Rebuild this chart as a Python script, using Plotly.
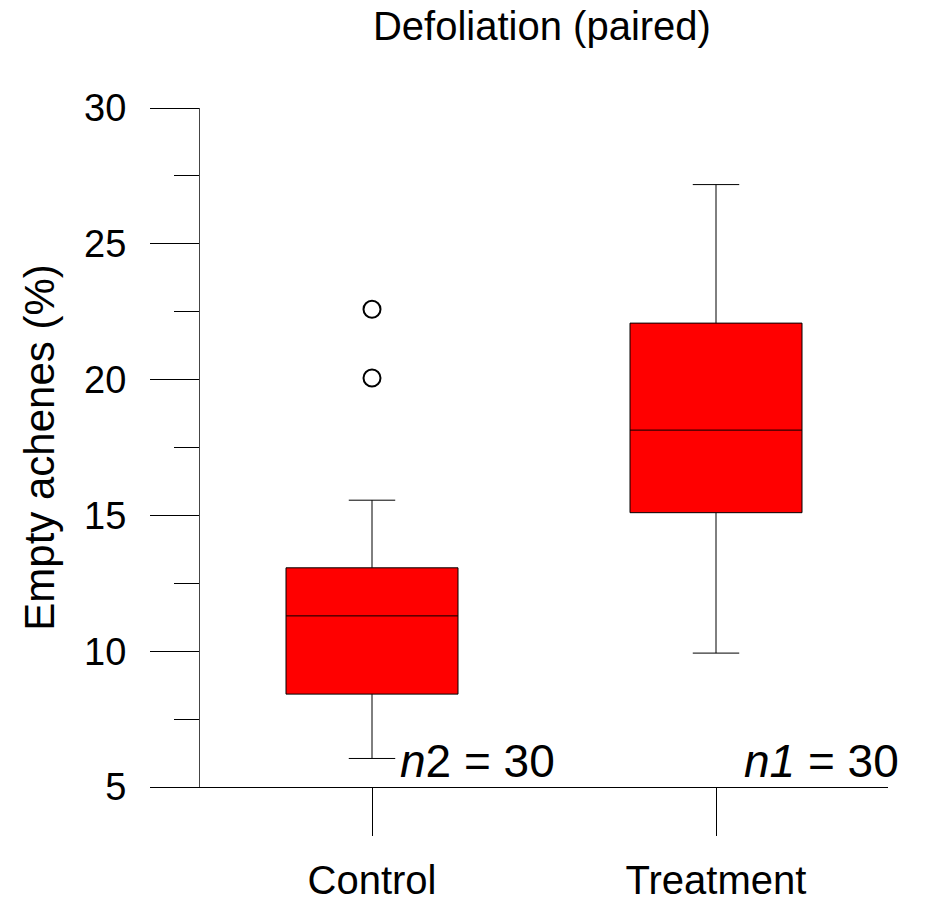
import plotly.graph_objects as go

# Summary statistics of empty achenes (%) per group
groups = ["Control", "Treatment"]
q1_vals = [8.42, 15.10]
median_vals = [11.30, 18.14]
q3_vals = [13.07, 22.08]
lower_whisker = [6.05, 9.93]
upper_whisker = [15.56, 27.18]

# Outlying observations (Control group only)
outlier_groups = ["Control", "Control"]
outlier_vals = [20.06, 22.59]

# Sample sizes printed next to each box
n_labels = ["<i>n</i>2 = 30", "<i>n1</i> = 30"]

y_major = [5, 10, 15, 20, 25, 30]
y_minor = [7.5, 12.5, 17.5, 22.5, 27.5]

FONT = "Liberation Sans, Arial, sans-serif"

fig = go.Figure()

fig.add_trace(go.Box(
    x=groups,
    q1=q1_vals,
    median=median_vals,
    q3=q3_vals,
    lowerfence=lower_whisker,
    upperfence=upper_whisker,
    boxpoints=False,
    width=0.5,
    whiskerwidth=0.27,
    fillcolor="#FF0000",
    line=dict(color="black", width=1),
    hoverinfo="skip",
))

fig.add_trace(go.Scatter(
    x=outlier_groups,
    y=outlier_vals,
    mode="markers",
    marker=dict(symbol="circle", size=17, color="white",
                line=dict(color="black", width=2)),
    hoverinfo="skip",
))

# Sample-size labels anchored just right of each box centre, near the baseline
for i, txt in enumerate(n_labels):
    fig.add_annotation(
        x=i + 0.076, y=5.95, xref="x", yref="y",
        text=txt, showarrow=False,
        xanchor="left", yanchor="middle",
        font=dict(family=FONT, size=46, color="black"),
    )

fig.update_layout(
    template="none",
    width=928, height=904,
    margin=dict(l=200, r=40, t=108, b=117, autoexpand=False),
    paper_bgcolor="white", plot_bgcolor="white",
    showlegend=False,
    font=dict(family=FONT, color="black"),
    title=dict(
        text="Defoliation (paired)",
        x=0.497, xref="paper", xanchor="center",
        y=1 - 26 / 904, yref="container", yanchor="middle",
        font=dict(family=FONT, size=40, color="black"),
    ),
    xaxis=dict(
        type="category",
        range=[-0.5, 1.5],
        automargin=False,
        showline=True, linecolor="black", linewidth=1,
        ticks="outside", ticklen=48, tickwidth=1, tickcolor="black",
        tickfont=dict(family=FONT, size=40, color="black"),
        ticklabelstandoff=10,
        showgrid=False, zeroline=False,
    ),
    yaxis=dict(
        range=[5, 30],
        automargin=False,
        tickvals=y_major,
        ticks="outside", ticklen=49, tickwidth=1, tickcolor="black",
        minor=dict(tickvals=y_minor, ticks="outside", ticklen=25,
                   tickwidth=1, tickcolor="black", showgrid=False),
        showline=True, linecolor="#444", linewidth=1,
        tickfont=dict(family=FONT, size=38, color="black"),
        ticklabelstandoff=16,
        showgrid=False, zeroline=False,
        title=dict(text="Empty achenes (%)", standoff=16,
                   font=dict(family=FONT, size=42, color="black")),
    ),
)

fig.write_html("out.html")
